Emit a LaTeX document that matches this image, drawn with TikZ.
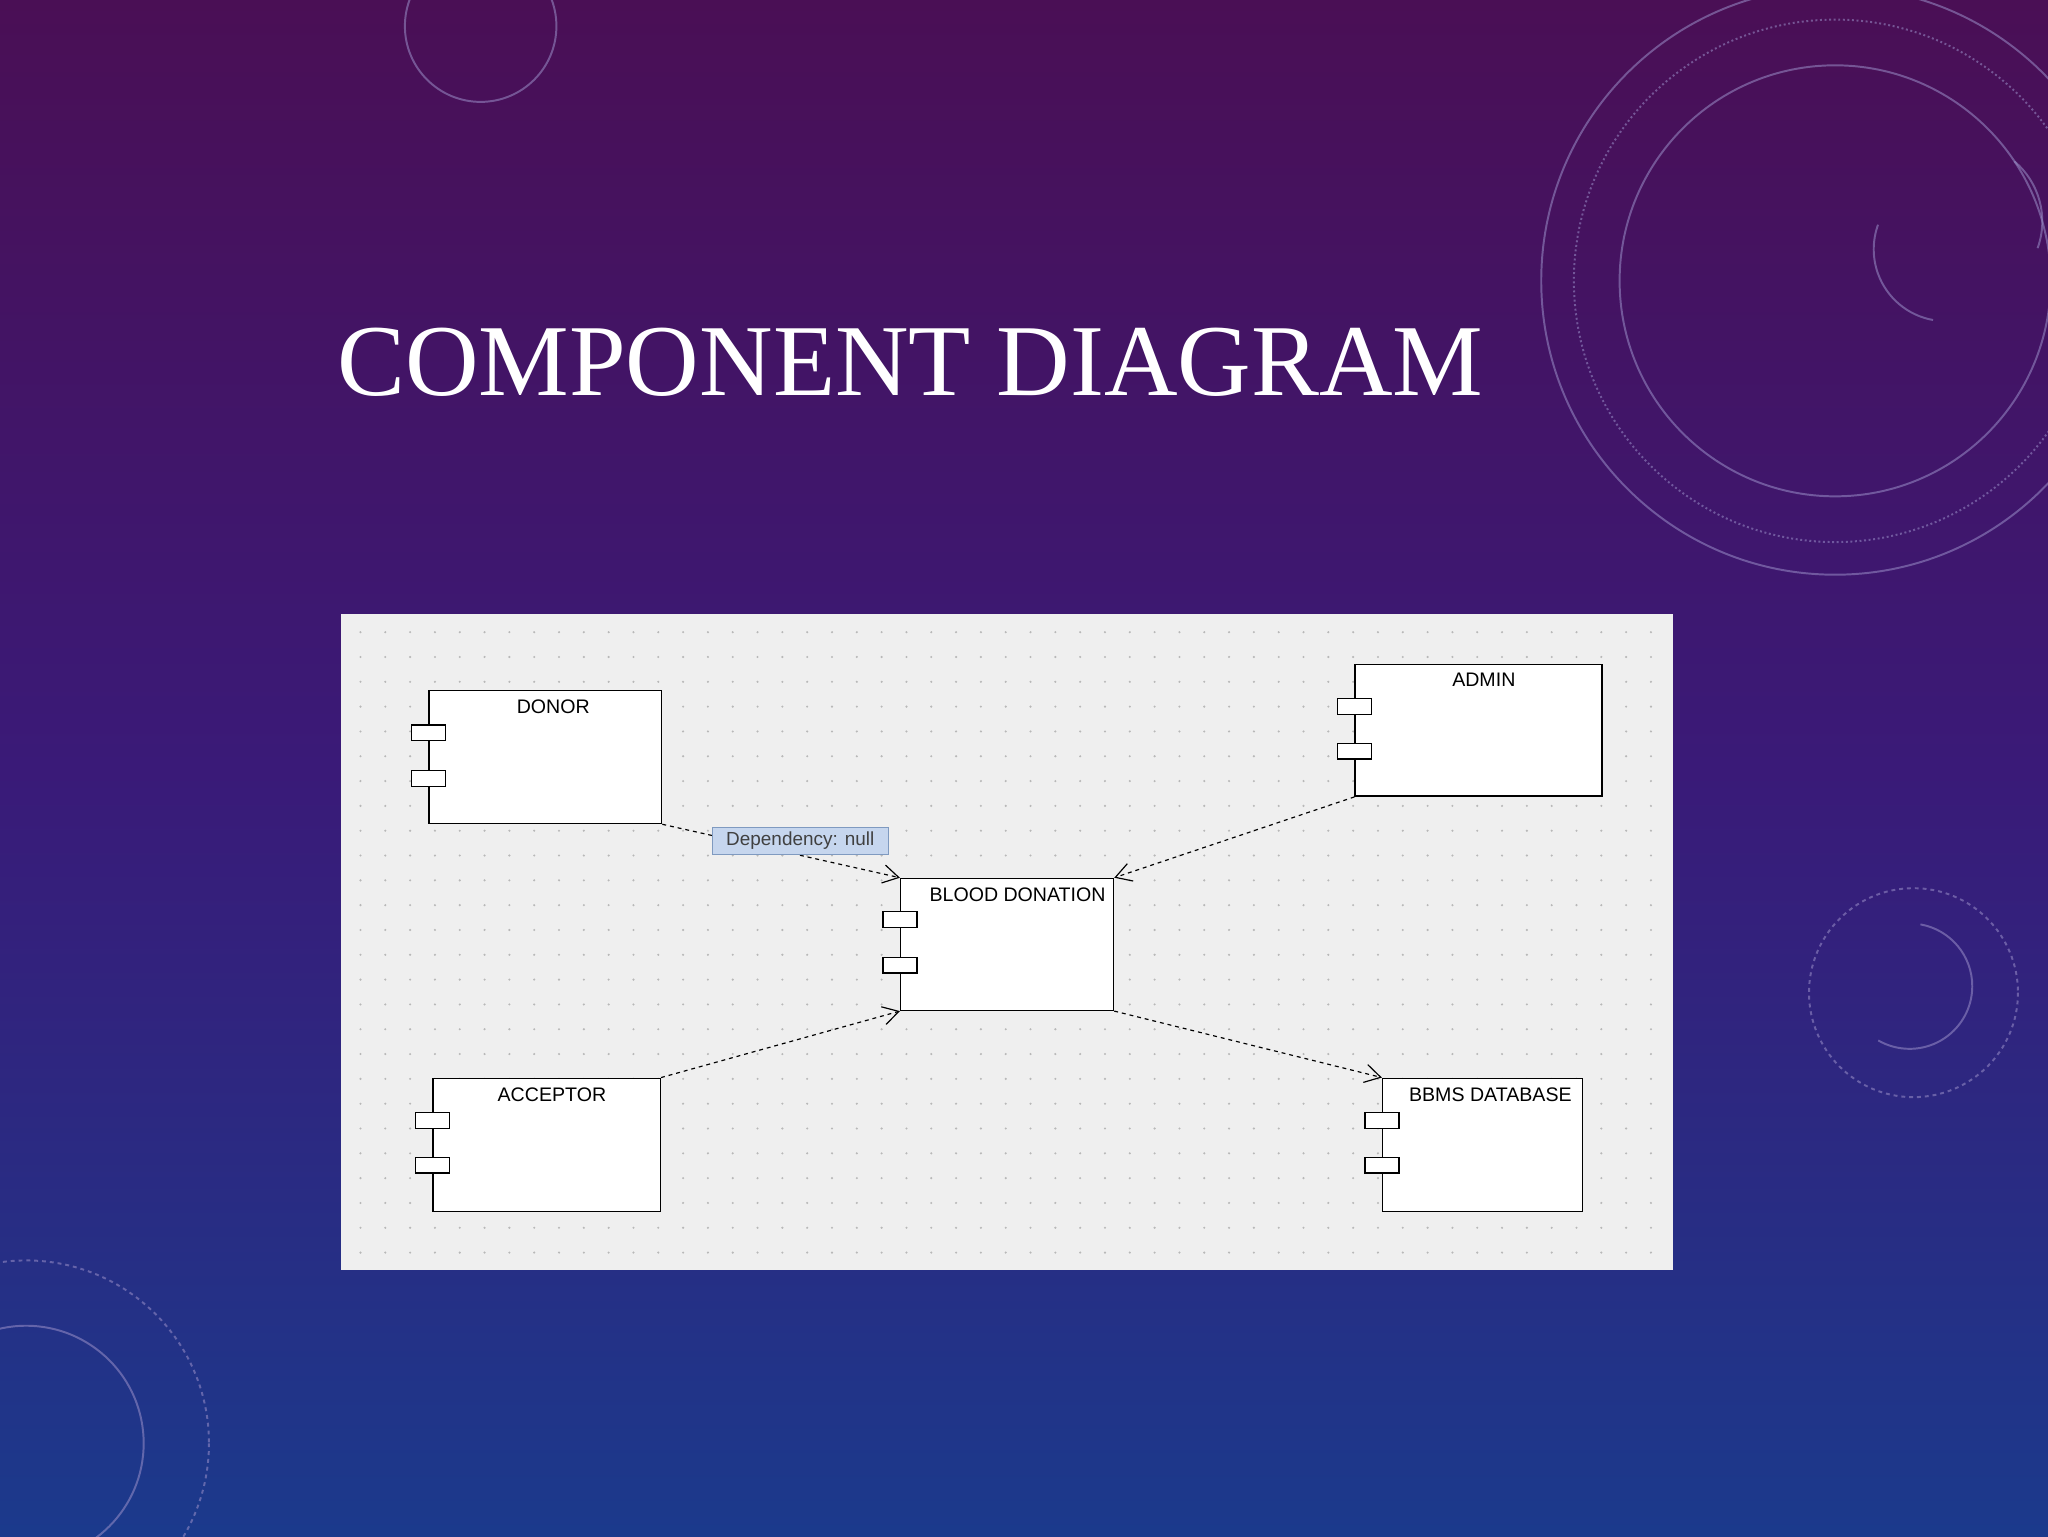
\documentclass[tikz,border=0pt]{standalone}
\usepackage{fontspec}
\setmainfont{Liberation Serif}
\newfontfamily\uisans{Liberation Sans}
\usetikzlibrary{arrows.meta,calc}
\definecolor{bgtop}{HTML}{4A0F55}
\definecolor{bgmid}{HTML}{3A1A78}
\definecolor{bgbot}{HTML}{1B3A8C}
\definecolor{panel}{HTML}{EFEFEF}
\definecolor{deco}{HTML}{9A8FC8}
\definecolor{labfill}{HTML}{C6D6EE}
\definecolor{labdraw}{HTML}{7F9AC0}
\tikzset{
  comp/.style={draw=black,fill=white,line width=1.1pt,anchor=north west,inner sep=0pt},
  port/.style={draw=black,fill=white,line width=1pt,minimum width=26pt,minimum height=12pt,inner sep=0pt},
  ctitle/.style={font=\uisans\fontsize{15}{15}\selectfont,anchor=north},
  dep/.style={draw=black,dashed,line width=0.9pt,-{Straight Barb[length=12pt,width=14pt]}},
  decoline/.style={draw=deco,opacity=0.55,line width=1.5pt}
}
\begin{document}
\begin{tikzpicture}[x=1pt,y=-1pt]
\useasboundingbox (0,0) rectangle (1568,1176);
\shade[top color=bgtop,bottom color=bgbot,middle color=bgmid] (0,0) rectangle (1568,1176);
% decorations
\draw[decoline] (368,20) circle (58);
\draw[decoline] (1405,215) circle (165);
\draw[decoline,dotted] (1405,215) circle (200);
\draw[decoline] (1405,215) circle (225);
\draw[decoline] (1560,190) arc (20:-50:60) (1480,245) arc (100:200:55);
\draw[decoline,dashed] (1465,760) circle (80);
\draw[decoline] (1510,755) arc (0:120:48);
\draw[decoline] (1510,755) arc (0:-80:48);
\draw[decoline] (20,1105) circle (90);
\draw[decoline,dashed] (20,1105) circle (140);
% title
\node[text=white,font=\fontsize{78}{78}\selectfont,anchor=base west,inner sep=0pt] (title) at (258,303) {COMPONENT DIAGRAM};
% panel
\fill[panel] (261,470) rectangle (1281,972);
\foreach \x in {276,295,...,1270}{\foreach \y in {484,503,...,965}{\fill[black!28] (\x,\y) circle (0.9);}}
% components
\node[comp,minimum width=178pt,minimum height=102pt] (donor) at (328,528) {};
\node[ctitle] at ($(donor.north)+(6,4)$) {DONOR};
\node[port] at (328,561) {}; \node[port] at (328,596) {};
\node[comp,minimum width=189pt,minimum height=101pt] (admin) at (1037,508) {};
\node[ctitle] at ($(admin.north)+(4,4)$) {ADMIN};
\node[port] at (1037,541) {}; \node[port] at (1037,575) {};
\node[comp,minimum width=163pt,minimum height=101pt] (bd) at (689,672) {};
\node[ctitle] at ($(bd.north)+(8,4)$) {BLOOD DONATION};
\node[port] at (689,704) {}; \node[port] at (689,739) {};
\node[comp,minimum width=174pt,minimum height=102pt] (acc) at (331,825) {};
\node[ctitle] at ($(acc.north)+(4,4)$) {ACCEPTOR};
\node[port] at (331,858) {}; \node[port] at (331,892) {};
\node[comp,minimum width=153pt,minimum height=102pt] (db) at (1058,825) {};
\node[ctitle] at ($(db.north)+(6,4)$) {BBMS DATABASE};
\node[port] at (1058,858) {}; \node[port] at (1058,892) {};
% connectors
\draw[dep] (donor.south east) -- (bd.north west);
\draw[dep] (admin.south west) -- (bd.north east);
\draw[dep] (acc.north east) -- (bd.south west);
\draw[dep] (bd.south east) -- (db.north west);
\node[draw=labdraw,fill=labfill,font=\uisans\fontsize{14.5}{15}\selectfont,text=black!75,inner sep=3pt,anchor=north west,minimum width=135pt,minimum height=21pt] (lab) at (545,633) {Dependency: null};
\end{tikzpicture}
\end{document}
